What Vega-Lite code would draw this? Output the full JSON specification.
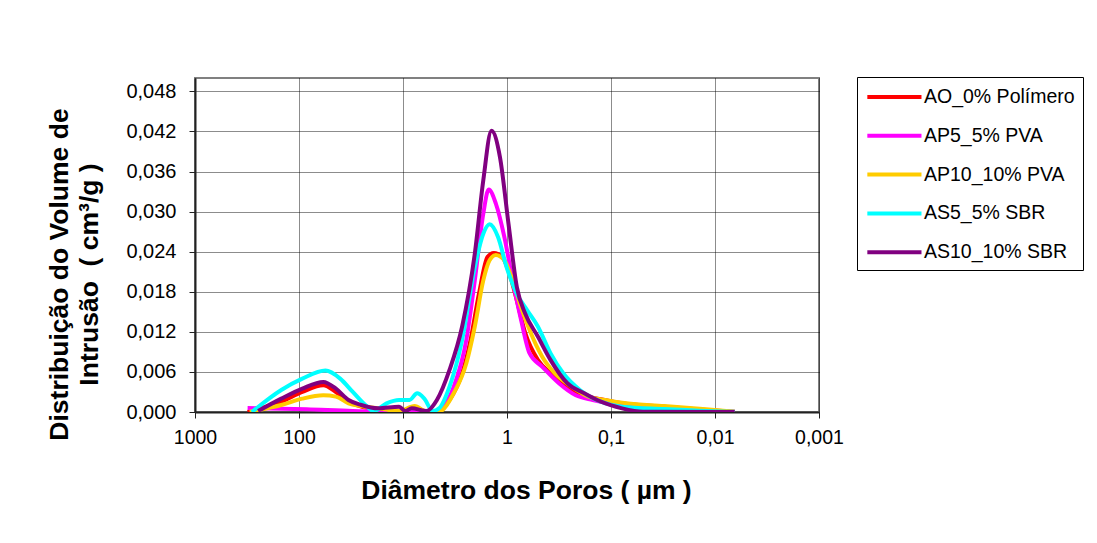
{
  "$schema": "https://vega.github.io/schema/vega-lite/v6.json",
  "width": 624,
  "height": 334,
  "autosize": "none",
  "padding": {"left": 195, "top": 78, "right": 278, "bottom": 131},
  "background": "white",
  "config": {
    "font": "Liberation Sans",
    "view": {"stroke": "#808080", "strokeWidth": 2},
    "axis": {
      "labelFont": "Liberation Sans",
      "titleFont": "Liberation Sans",
      "labelColor": "black",
      "titleColor": "black",
      "domainColor": "#222222",
      "domainWidth": 2,
      "tickColor": "#222222",
      "tickSize": 6,
      "gridColor": "black",
      "gridDash": [1, 1],
      "gridWidth": 1,
      "gridOpacity": 0.9
    }
  },
  "data": {
    "values": [
      {"s": "AO_0% Polímero", "d": 312, "v": 0},
      {"s": "AO_0% Polímero", "d": 148, "v": 0.00154},
      {"s": "AO_0% Polímero", "d": 92.9, "v": 0.003},
      {"s": "AO_0% Polímero", "d": 58.4, "v": 0.004},
      {"s": "AO_0% Polímero", "d": 44.2, "v": 0.003},
      {"s": "AO_0% Polímero", "d": 33.4, "v": 0.00154},
      {"s": "AO_0% Polímero", "d": 25.2, "v": 0.0008},
      {"s": "AO_0% Polímero", "d": 17.4, "v": 0.0004},
      {"s": "AO_0% Polímero", "d": 10.9, "v": 0.00015},
      {"s": "AO_0% Polímero", "d": 7.52, "v": 0.00055},
      {"s": "AO_0% Polímero", "d": 5.69, "v": 0.00005},
      {"s": "AO_0% Polímero", "d": 4.72, "v": 0.00005},
      {"s": "AO_0% Polímero", "d": 3.57, "v": 0.0018},
      {"s": "AO_0% Polímero", "d": 2.7, "v": 0.0058},
      {"s": "AO_0% Polímero", "d": 2.24, "v": 0.0108},
      {"s": "AO_0% Polímero", "d": 1.86, "v": 0.0177},
      {"s": "AO_0% Polímero", "d": 1.54, "v": 0.0232},
      {"s": "AO_0% Polímero", "d": 1.34, "v": 0.0238},
      {"s": "AO_0% Polímero", "d": 1.11, "v": 0.0232},
      {"s": "AO_0% Polímero", "d": 0.925, "v": 0.0202},
      {"s": "AO_0% Polímero", "d": 0.804, "v": 0.0167},
      {"s": "AO_0% Polímero", "d": 0.667, "v": 0.0118},
      {"s": "AO_0% Polímero", "d": 0.505, "v": 0.0078},
      {"s": "AO_0% Polímero", "d": 0.382, "v": 0.0058},
      {"s": "AO_0% Polímero", "d": 0.263, "v": 0.0038},
      {"s": "AO_0% Polímero", "d": 0.181, "v": 0.0025},
      {"s": "AO_0% Polímero", "d": 0.125, "v": 0.0019},
      {"s": "AO_0% Polímero", "d": 0.0783, "v": 0.0013},
      {"s": "AO_0% Polímero", "d": 0.0309, "v": 0.0008},
      {"s": "AO_0% Polímero", "d": 0.0122, "v": 0.0003},
      {"s": "AO_0% Polímero", "d": 0.00646, "v": 0.00002},

      {"s": "AP5_5% PVA", "d": 312, "v": 0.0006},
      {"s": "AP5_5% PVA", "d": 84.7, "v": 0.0004},
      {"s": "AP5_5% PVA", "d": 30.4, "v": 0.00015},
      {"s": "AP5_5% PVA", "d": 10.9, "v": 0.00005},
      {"s": "AP5_5% PVA", "d": 5.18, "v": 0},
      {"s": "AP5_5% PVA", "d": 4.3, "v": 0.00055},
      {"s": "AP5_5% PVA", "d": 3.25, "v": 0.0038},
      {"s": "AP5_5% PVA", "d": 2.46, "v": 0.0108},
      {"s": "AP5_5% PVA", "d": 2.04, "v": 0.0197},
      {"s": "AP5_5% PVA", "d": 1.69, "v": 0.0297},
      {"s": "AP5_5% PVA", "d": 1.5, "v": 0.0333},
      {"s": "AP5_5% PVA", "d": 1.28, "v": 0.0312},
      {"s": "AP5_5% PVA", "d": 1.06, "v": 0.0262},
      {"s": "AP5_5% PVA", "d": 0.883, "v": 0.0197},
      {"s": "AP5_5% PVA", "d": 0.733, "v": 0.0138},
      {"s": "AP5_5% PVA", "d": 0.608, "v": 0.0088},
      {"s": "AP5_5% PVA", "d": 0.46, "v": 0.0068},
      {"s": "AP5_5% PVA", "d": 0.317, "v": 0.0043},
      {"s": "AP5_5% PVA", "d": 0.218, "v": 0.0025},
      {"s": "AP5_5% PVA", "d": 0.15, "v": 0.0018},
      {"s": "AP5_5% PVA", "d": 0.0783, "v": 0.00105},
      {"s": "AP5_5% PVA", "d": 0.0309, "v": 0.00055},
      {"s": "AP5_5% PVA", "d": 0.0122, "v": 0.00015},
      {"s": "AP5_5% PVA", "d": 0.00646, "v": 0.00002},

      {"s": "AP10_10% PVA", "d": 298, "v": 0.00005},
      {"s": "AP10_10% PVA", "d": 148, "v": 0.00105},
      {"s": "AP10_10% PVA", "d": 92.9, "v": 0.002},
      {"s": "AP10_10% PVA", "d": 58.4, "v": 0.0025},
      {"s": "AP10_10% PVA", "d": 44.2, "v": 0.0023},
      {"s": "AP10_10% PVA", "d": 33.4, "v": 0.0013},
      {"s": "AP10_10% PVA", "d": 25.2, "v": 0.0009},
      {"s": "AP10_10% PVA", "d": 17.4, "v": 0.00055},
      {"s": "AP10_10% PVA", "d": 10.9, "v": 0.00015},
      {"s": "AP10_10% PVA", "d": 7.73, "v": 0.0009},
      {"s": "AP10_10% PVA", "d": 5.96, "v": 0.00005},
      {"s": "AP10_10% PVA", "d": 4.72, "v": 0},
      {"s": "AP10_10% PVA", "d": 4.3, "v": 0.00015},
      {"s": "AP10_10% PVA", "d": 3.25, "v": 0.0028},
      {"s": "AP10_10% PVA", "d": 2.46, "v": 0.0073},
      {"s": "AP10_10% PVA", "d": 2.04, "v": 0.0128},
      {"s": "AP10_10% PVA", "d": 1.69, "v": 0.0197},
      {"s": "AP10_10% PVA", "d": 1.47, "v": 0.0227},
      {"s": "AP10_10% PVA", "d": 1.28, "v": 0.0235},
      {"s": "AP10_10% PVA", "d": 1.06, "v": 0.0227},
      {"s": "AP10_10% PVA", "d": 0.883, "v": 0.0197},
      {"s": "AP10_10% PVA", "d": 0.733, "v": 0.0157},
      {"s": "AP10_10% PVA", "d": 0.608, "v": 0.0123},
      {"s": "AP10_10% PVA", "d": 0.46, "v": 0.0083},
      {"s": "AP10_10% PVA", "d": 0.348, "v": 0.0058},
      {"s": "AP10_10% PVA", "d": 0.239, "v": 0.0038},
      {"s": "AP10_10% PVA", "d": 0.165, "v": 0.0023},
      {"s": "AP10_10% PVA", "d": 0.114, "v": 0.0018},
      {"s": "AP10_10% PVA", "d": 0.0714, "v": 0.0013},
      {"s": "AP10_10% PVA", "d": 0.0309, "v": 0.0009},
      {"s": "AP10_10% PVA", "d": 0.0122, "v": 0.0004},
      {"s": "AP10_10% PVA", "d": 0.00646, "v": 0.00002},

      {"s": "AS5_5% SBR", "d": 284, "v": 0},
      {"s": "AS5_5% SBR", "d": 148, "v": 0.0033},
      {"s": "AS5_5% SBR", "d": 92.9, "v": 0.005},
      {"s": "AS5_5% SBR", "d": 55.7, "v": 0.0062},
      {"s": "AS5_5% SBR", "d": 40.2, "v": 0.005},
      {"s": "AS5_5% SBR", "d": 30.4, "v": 0.003},
      {"s": "AS5_5% SBR", "d": 23.0, "v": 0.00105},
      {"s": "AS5_5% SBR", "d": 19.1, "v": 0.00015},
      {"s": "AS5_5% SBR", "d": 14.4, "v": 0.0013},
      {"s": "AS5_5% SBR", "d": 10.9, "v": 0.0018},
      {"s": "AS5_5% SBR", "d": 8.65, "v": 0.0018},
      {"s": "AS5_5% SBR", "d": 7.31, "v": 0.0028},
      {"s": "AS5_5% SBR", "d": 6.24, "v": 0.002},
      {"s": "AS5_5% SBR", "d": 5.18, "v": 0.00015},
      {"s": "AS5_5% SBR", "d": 4.5, "v": 0.00055},
      {"s": "AS5_5% SBR", "d": 3.57, "v": 0.0038},
      {"s": "AS5_5% SBR", "d": 2.7, "v": 0.0108},
      {"s": "AS5_5% SBR", "d": 2.04, "v": 0.0217},
      {"s": "AS5_5% SBR", "d": 1.69, "v": 0.0267},
      {"s": "AS5_5% SBR", "d": 1.47, "v": 0.0281},
      {"s": "AS5_5% SBR", "d": 1.22, "v": 0.0262},
      {"s": "AS5_5% SBR", "d": 1.01, "v": 0.0217},
      {"s": "AS5_5% SBR", "d": 0.804, "v": 0.0177},
      {"s": "AS5_5% SBR", "d": 0.637, "v": 0.0152},
      {"s": "AS5_5% SBR", "d": 0.505, "v": 0.0128},
      {"s": "AS5_5% SBR", "d": 0.382, "v": 0.0088},
      {"s": "AS5_5% SBR", "d": 0.288, "v": 0.0058},
      {"s": "AS5_5% SBR", "d": 0.199, "v": 0.0033},
      {"s": "AS5_5% SBR", "d": 0.125, "v": 0.00154},
      {"s": "AS5_5% SBR", "d": 0.0783, "v": 0.0008},
      {"s": "AS5_5% SBR", "d": 0.0309, "v": 0.00045},
      {"s": "AS5_5% SBR", "d": 0.0122, "v": 0.00015},
      {"s": "AS5_5% SBR", "d": 0.00646, "v": 0.00002},

      {"s": "AS10_10% SBR", "d": 247, "v": 0.00015},
      {"s": "AS10_10% SBR", "d": 148, "v": 0.002},
      {"s": "AS10_10% SBR", "d": 92.9, "v": 0.0035},
      {"s": "AS10_10% SBR", "d": 58.4, "v": 0.0045},
      {"s": "AS10_10% SBR", "d": 44.2, "v": 0.0035},
      {"s": "AS10_10% SBR", "d": 33.4, "v": 0.0018},
      {"s": "AS10_10% SBR", "d": 25.2, "v": 0.00105},
      {"s": "AS10_10% SBR", "d": 17.4, "v": 0.00055},
      {"s": "AS10_10% SBR", "d": 10.9, "v": 0.0008},
      {"s": "AS10_10% SBR", "d": 9.49, "v": 0.00015},
      {"s": "AS10_10% SBR", "d": 8.26, "v": 0.00055},
      {"s": "AS10_10% SBR", "d": 5.96, "v": 0.00015},
      {"s": "AS10_10% SBR", "d": 4.72, "v": 0.0018},
      {"s": "AS10_10% SBR", "d": 3.57, "v": 0.0063},
      {"s": "AS10_10% SBR", "d": 2.7, "v": 0.0128},
      {"s": "AS10_10% SBR", "d": 2.04, "v": 0.0237},
      {"s": "AS10_10% SBR", "d": 1.69, "v": 0.0347},
      {"s": "AS10_10% SBR", "d": 1.41, "v": 0.0421},
      {"s": "AS10_10% SBR", "d": 1.17, "v": 0.0382},
      {"s": "AS10_10% SBR", "d": 0.968, "v": 0.0282},
      {"s": "AS10_10% SBR", "d": 0.804, "v": 0.0187},
      {"s": "AS10_10% SBR", "d": 0.667, "v": 0.0147},
      {"s": "AS10_10% SBR", "d": 0.505, "v": 0.0113},
      {"s": "AS10_10% SBR", "d": 0.382, "v": 0.0078},
      {"s": "AS10_10% SBR", "d": 0.263, "v": 0.0043},
      {"s": "AS10_10% SBR", "d": 0.181, "v": 0.0028},
      {"s": "AS10_10% SBR", "d": 0.125, "v": 0.00154},
      {"s": "AS10_10% SBR", "d": 0.0783, "v": 0.00055},
      {"s": "AS10_10% SBR", "d": 0.0492, "v": 0.00005},
      {"s": "AS10_10% SBR", "d": 0.00646, "v": 0}
    ]
  },
  "mark": {"type": "line", "interpolate": "monotone", "strokeWidth": 4, "clip": true},
  "encoding": {
    "x": {
      "field": "d",
      "type": "quantitative",
      "scale": {"type": "log", "domain": [0.001, 1000], "reverse": true, "nice": false},
      "axis": {
        "values": [1000, 100, 10, 1, 0.1, 0.01, 0.001],
        "labelExpr": "replace(toString(datum.value), '.', ',')",
        "labelFontSize": 19.5,
        "labelPadding": 10,
        "labelFlush": false,
        "labelOverlap": false,
        "title": "Diâmetro dos Poros ( µm )",
        "titleFontSize": 26.5,
        "titleFontWeight": "bold",
        "titleX": 331,
        "titleY": 86,
        "titleBaseline": "alphabetic",
        "titleAlign": "center"
      }
    },
    "y": {
      "field": "v",
      "type": "quantitative",
      "scale": {"domain": [0, 0.05], "nice": false, "zero": true},
      "axis": {
        "values": [0, 0.006, 0.012, 0.018, 0.024, 0.03, 0.036, 0.042, 0.048],
        "labelExpr": "replace(format(datum.value, '.3f'), '.', ',')",
        "labelFontSize": 20,
        "labelPadding": 13,
        "labelOverlap": false,
        "title": ["Distribuição do Volume de", "Intrusão\u00a0 ( cm³/g )"],
        "titleFontSize": 26.5,
        "titleFontWeight": "bold",
        "titleAngle": -90,
        "titleLineHeight": 30,
        "titleAlign": "center",
        "titleBaseline": "middle",
        "titleX": -136,
        "titleY": 196
      }
    },
    "color": {
      "field": "s",
      "type": "nominal",
      "scale": {
        "domain": ["AO_0% Polímero", "AP5_5% PVA", "AP10_10% PVA", "AS5_5% SBR", "AS10_10% SBR"],
        "range": ["#FF0000", "#FF00FF", "#FFCC00", "#00FFFF", "#800080"]
      },
      "legend": {
        "title": null,
        "orient": "none",
        "legendX": 662,
        "legendY": -1,
        "symbolType": "M-1,0H4.6",
        "symbolSize": 374,
        "symbolStrokeWidth": 4,
        "labelFontSize": 19.5,
        "labelFont": "Liberation Sans",
        "labelColor": "black",
        "labelOffset": 35,
        "rowPadding": 16.8,
        "strokeColor": "black",
        "padding": 8,
        "labelLimit": 300
      }
    },
    "order": {"field": "d", "sort": "descending"}
  }
}
